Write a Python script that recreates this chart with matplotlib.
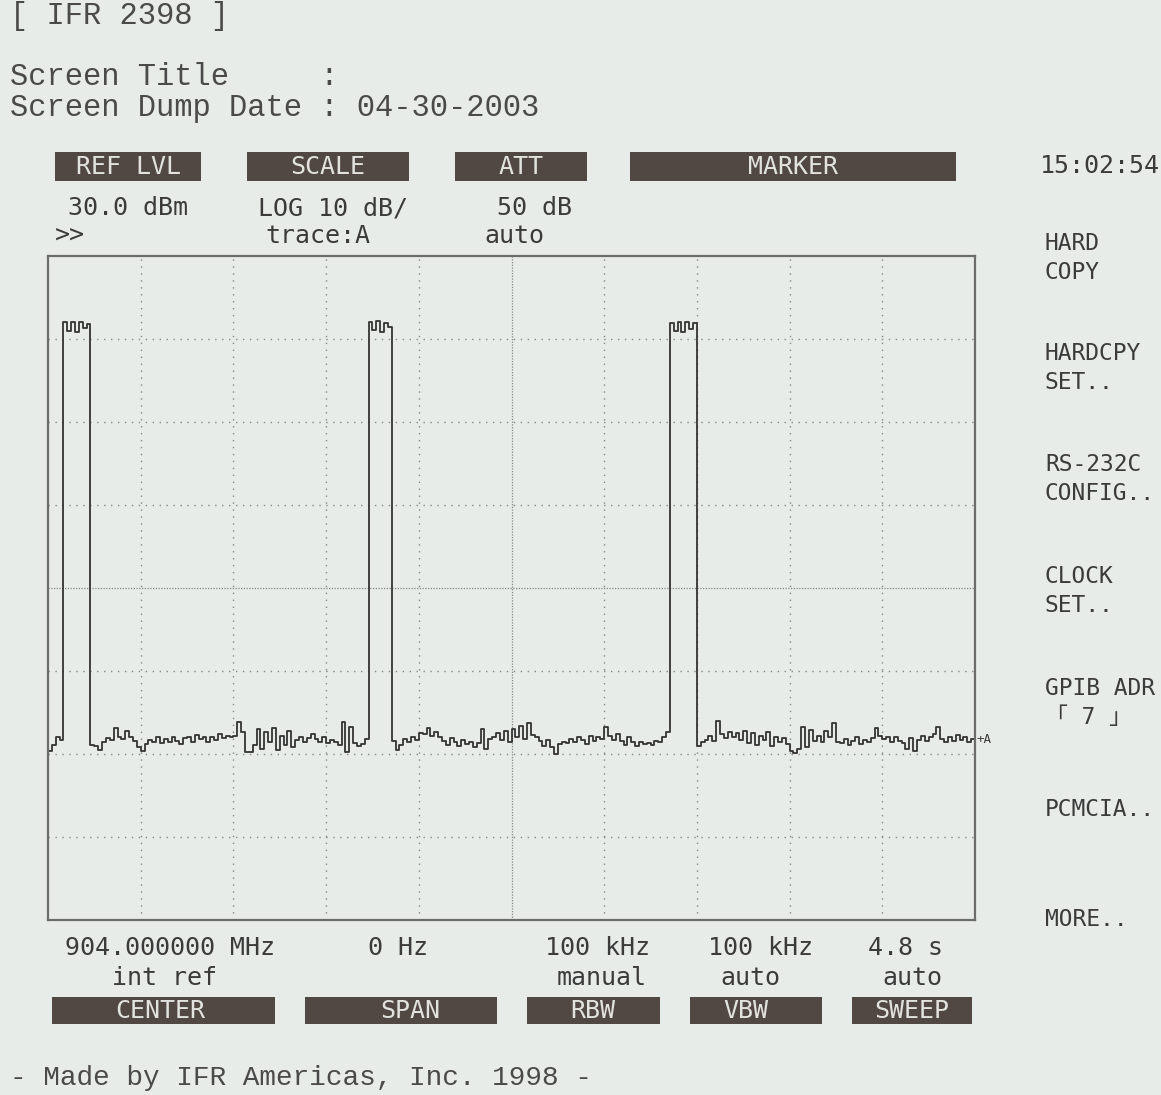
import numpy as np
import matplotlib.pyplot as plt
from matplotlib import font_manager
from matplotlib.patches import Rectangle

W, H = 1161, 1095

# Instrument settings (zero span -> the x axis is sweep time)
REF_LEVEL = 30.0        # dBm, top of screen
DB_PER_DIV = 10
N_DIV_Y = 8
N_DIV_X = 10
SWEEP_TIME = 4.8        # s
N_POINTS = 241

LEAD_NOISE = [-29.6, -28.9, -28.0, -28.3]
PULSE_1 = [22.0, 21.0, 22.1, 20.9, 22.0, 21.3, 21.8]
NOISE_1 = [-28.9, -29.0, -29.5, -28.6, -28.1, -28.3, -26.9, -27.9, -28.2, -27.2,
           -28.0, -28.4, -29.2, -29.6, -28.8, -28.3, -28.6, -28.0, -28.7, -28.2,
           -28.5, -27.9, -28.4, -28.8, -28.1, -28.0, -28.5, -27.7, -28.2, -28.0,
           -28.6, -27.9, -28.3, -27.6, -28.1, -27.8, -28.0, -27.8, -26.1, -27.4,
           -29.7, -29.8, -28.9, -27.0, -29.4, -27.3, -28.6, -26.9, -29.5, -27.8,
           -28.9, -27.2, -29.1, -28.3, -28.0, -28.6, -28.1, -27.6, -28.2, -28.5,
           -28.0, -28.7, -28.3, -28.6, -28.9, -26.2, -29.7, -26.8, -28.7, -29.0,
           -28.8, -28.2]
PULSE_2 = [22.0, 21.1, 22.2, 20.9, 21.9, 21.5]
NOISE_2 = [-28.4, -29.5, -28.9, -28.2, -28.6, -27.9, -28.3, -27.5, -27.6, -26.9,
           -27.8, -27.3, -28.0, -28.4, -28.9, -28.1, -28.6, -29.0, -28.3, -28.8,
           -28.5, -29.1, -28.7, -27.0, -29.4, -28.2, -28.0, -27.5, -28.3, -27.2,
           -28.6, -27.0, -27.9, -26.6, -28.2, -26.3, -27.7, -28.0, -28.4, -29.0,
           -28.3, -29.2, -30.0, -28.8, -28.5, -28.7, -28.2, -28.6, -27.9, -28.3,
           -28.8, -27.8, -28.4, -28.0, -28.2, -26.7, -27.8, -28.3, -27.6, -28.4,
           -28.9, -27.9, -28.6, -29.0, -28.5, -28.8, -28.7, -28.9, -28.4, -28.6,
           -28.0, -27.4]
PULSE_3 = [21.9, 21.0, 22.1, 20.8, 22.0, 21.2, 21.9]
NOISE_3 = [-29.0, -28.6, -28.3, -27.8, -28.4, -26.0, -27.6, -28.1, -27.4, -28.0,
           -27.5, -28.3, -27.2, -28.7, -27.5, -28.9, -27.8, -28.3, -27.4, -29.0,
           -27.9, -28.5, -28.1, -28.8, -29.6, -29.9, -29.4, -26.8, -29.2, -27.1,
           -28.4, -27.8, -28.6, -27.2, -28.0, -26.3, -28.5, -28.7, -28.2, -28.9,
           -28.4, -27.9, -28.8, -28.3, -28.6, -28.1, -26.9, -27.8, -28.2, -27.9,
           -28.5, -28.0, -28.4, -28.7, -29.4, -28.1, -29.6, -28.3, -27.8, -28.4,
           -28.0, -27.6, -26.8, -28.2, -28.6, -27.9, -28.4, -27.7, -28.3, -28.0,
           -28.5, -28.2, -28.3]

HEADER_KEYS = ["REF LVL", "SCALE", "ATT", "MARKER"]
HEADER_LINE_1 = ["30.0 dBm", "LOG 10 dB/", "50 dB"]
HEADER_LINE_2 = [">>", "trace:A", "auto"]
CLOCK = "15:02:54"

FOOTER_KEYS = ["CENTER", "SPAN", "RBW", "VBW", "SWEEP"]
FOOTER_LINE_1 = ["904.000000 MHz", "0 Hz", "100 kHz", "100 kHz", "4.8 s"]
FOOTER_LINE_2 = ["int ref", "", "manual", "auto", "auto"]

SOFT_KEYS = ["HARD\nCOPY", "HARDCPY\nSET..", "RS-232C\nCONFIG..", "CLOCK\nSET..",
             "GPIB ADR\n\u300c 7 \u300d", "PCMCIA..", "MORE.."]

TITLE_LINES = ["[ IFR 2398 ]", "Screen Title     :",
               "Screen Dump Date : 04-30-2003"]
FOOTNOTE = "- Made by IFR Americas, Inc. 1998 -"

# colours
PAPER = "#e7ece9"
INK = "#3b3b3b"
KEY_BG = "#524843"
KEY_FG = "#e2e2de"
GRID = "#858986"

names = {f.name for f in font_manager.fontManager.ttflist}
if "Liberation Sans Narrow" in names:
    INSTR_FONT, INSTR_SIZE = "Liberation Sans Narrow", 24
else:
    INSTR_FONT, INSTR_SIZE = "DejaVu Sans Mono", 18
MONO_FONT = "Liberation Mono"


def fx(x):
    return x / W


def fy(y):
    return 1 - y / H


def itext(x, y, s, ha="left", color=INK, size=INSTR_SIZE, **kw):
    fig.text(fx(x), fy(y), s, ha=ha, va="center", color=color,
             family=[INSTR_FONT, "Noto Sans CJK JP"], fontsize=size, **kw)


def key_box(x0, x1, y0, y1, label, cx):
    fig.patches.append(Rectangle((fx(x0), fy(y1)), fx(x1) - fx(x0),
                                 fy(y0) - fy(y1), transform=fig.transFigure,
                                 facecolor=KEY_BG, edgecolor="none"))
    itext(cx, (y0 + y1) / 2 + 1, label, ha="center", color=KEY_FG)


fig = plt.figure(figsize=(W / 100, H / 100), dpi=100, facecolor=PAPER)

# ---- screen area ----
ax = fig.add_axes([fx(48), fy(920), fx(975) - fx(48), fy(256) - fy(920)])
ax.set_facecolor(PAPER)
bottom = REF_LEVEL - N_DIV_Y * DB_PER_DIV
ax.set_xlim(0, SWEEP_TIME)
ax.set_ylim(bottom, REF_LEVEL)
ax.set_xticks([])
ax.set_yticks([])
for sp in ax.spines.values():
    sp.set_color("#6c6c6c")
    sp.set_linewidth(1.6)

for k in range(1, N_DIV_X):
    xv = k * SWEEP_TIME / N_DIV_X
    if k == N_DIV_X // 2:
        ax.axvline(xv, color=GRID, lw=0.9, ls=(0, (1, 1.2)))
    else:
        ax.axvline(xv, color=GRID, lw=1.0, ls=(0, (1, 4)))
for k in range(1, N_DIV_Y):
    yv = REF_LEVEL - k * DB_PER_DIV
    if k == N_DIV_Y // 2:
        ax.axhline(yv, color=GRID, lw=0.9, ls=(0, (1, 1.2)))
    else:
        ax.axhline(yv, color=GRID, lw=1.0, ls=(0, (1, 4)))

trace = np.concatenate([LEAD_NOISE, PULSE_1, NOISE_1, PULSE_2,
                        NOISE_2, PULSE_3, NOISE_3])
t = np.linspace(0, SWEEP_TIME, N_POINTS)
ax.plot(t, trace, color="#333333", lw=1.3, drawstyle="steps-post")
ax.annotate("+A", (SWEEP_TIME, trace[-1]), xytext=(1, 0),
            textcoords="offset points", ha="left", va="center",
            fontsize=9, color=INK, family=INSTR_FONT, annotation_clip=False)

# ---- header ----
title_y = [16, 77, 108]
for s, y in zip(TITLE_LINES, title_y):
    fig.text(fx(10), fy(y), s, ha="left", va="center", color="#4a4a4a",
             family=MONO_FONT, fontsize=22)
fig.text(fx(10), fy(1078), FOOTNOTE, ha="left", va="center",
         color="#4a4a4a", family=MONO_FONT, fontsize=20)

header_boxes = [(55, 201, 128), (247, 409, 328), (455, 587, 521),
                (630, 956, 793)]
for (x0, x1, cx), lab in zip(header_boxes, HEADER_KEYS):
    key_box(x0, x1, 152, 181, lab, cx)

for s, x in zip(HEADER_LINE_1, [68, 258, 497]):
    itext(x, 208, s)
for s, x in zip(HEADER_LINE_2, [55, 265, 484]):
    itext(x, 236, s)
itext(1040, 166, CLOCK)

# ---- footer ----
footer_boxes = [(52, 275, 160), (305, 497, 410), (527, 660, 593),
                (690, 822, 746), (852, 972, 912)]
for (x0, x1, cx), lab in zip(footer_boxes, FOOTER_KEYS):
    key_box(x0, x1, 997, 1024, lab, cx)
for s, x in zip(FOOTER_LINE_1, [65, 368, 545, 708, 868]):
    itext(x, 948, s)
for s, x in zip(FOOTER_LINE_2, [112, 368, 557, 720, 882]):
    if s:
        itext(x, 978, s)

# ---- soft keys (shrunk a little so the long ones stay on the page) ----
soft_y = [258, 368, 479, 591, 703, 810, 920]
for s, y in zip(SOFT_KEYS, soft_y):
    fig.text(fx(1045), fy(y), s, ha="left", va="center", color=INK,
             family=[INSTR_FONT, "Noto Sans CJK JP"], fontsize=16.5,
             linespacing=1.3)

fig.savefig("out.png", dpi=100, facecolor=PAPER)
